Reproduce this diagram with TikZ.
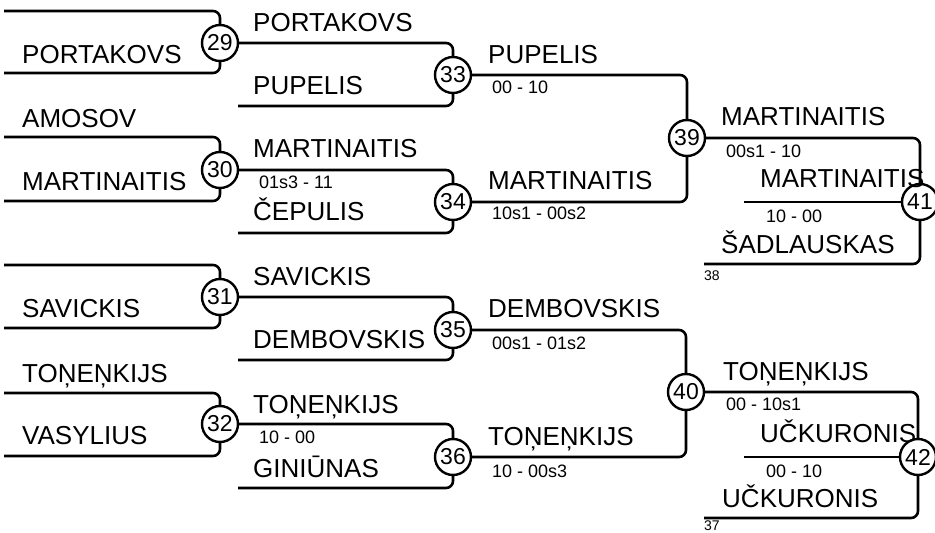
\documentclass[tikz,border=0pt]{standalone}
\usepackage{fontspec}
\setmainfont{Liberation Sans}
\begin{document}
\begin{tikzpicture}[x=1pt,y=-1pt,
  conn/.style={line width=2.6pt, rounded corners=7pt},
  game/.style={circle, draw, line width=2.4pt, fill=white, minimum size=36pt, inner sep=0pt, font=\fontsize{23}{23}\selectfont},
  player/.style={anchor=base west, inner sep=0pt, font=\fontsize{26}{28}\selectfont},
  score/.style={anchor=base west, inner sep=0pt, font=\fontsize{18}{20}\selectfont},
  smalltxt/.style={anchor=base west, inner sep=0pt, font=\fontsize{14}{15}\selectfont}]
\useasboundingbox (0,0) rectangle (935,533);
% games
\node[game] (m29) at (220,43) {29};
\node[game] (m30) at (220,170) {30};
\node[game] (m31) at (220,297) {31};
\node[game] (m32) at (220,424) {32};
\node[game] (m33) at (453,75) {33};
\node[game] (m34) at (453,202) {34};
\node[game] (m35) at (453,330) {35};
\node[game] (m36) at (453,457) {36};
\node[game] (m39) at (687,138) {39};
\node[game] (m40) at (686,392) {40};
% free ends
\coordinate (a29t) at (4,11);  \coordinate (a29b) at (4,73);
\coordinate (a30t) at (4,137); \coordinate (a30b) at (4,201);
\coordinate (a31t) at (4,265); \coordinate (a31b) at (4,328);
\coordinate (a32t) at (4,393); \coordinate (a32b) at (4,456);
\coordinate (a33b) at (238,106);
\coordinate (a34b) at (238,233);
\coordinate (a35b) at (238,360);
\coordinate (a36b) at (238,488);
\coordinate (a41w) at (744,202); \coordinate (a41b) at (704,264);
\coordinate (a42w) at (744,457); \coordinate (a42b) at (704,518);
% connectors
\draw[conn] (a29t) -| (m29.north);
\draw[conn] (a29b) -| (m29.south);
\draw[conn] (a30t) -| (m30.north);
\draw[conn] (a30b) -| (m30.south);
\draw[conn] (a31t) -| (m31.north);
\draw[conn] (a31b) -| (m31.south);
\draw[conn] (a32t) -| (m32.north);
\draw[conn] (a32b) -| (m32.south);
\draw[conn] (m29.east) -| (m33.north);
\draw[conn] (a33b) -| (m33.south);
\draw[conn] (m30.east) -| (m34.north);
\draw[conn] (a34b) -| (m34.south);
\draw[conn] (m31.east) -| (m35.north);
\draw[conn] (a35b) -| (m35.south);
\draw[conn] (m32.east) -| (m36.north);
\draw[conn] (a36b) -| (m36.south);
\draw[conn] (m33.east) -| (m39.north);
\draw[conn] (m34.east) -| (m39.south);
\draw[conn] (m35.east) -| (m40.north);
\draw[conn] (m36.east) -| (m40.south);
\node[game] (m41) at (920,202) {41};
\node[game] (m42) at (918,457) {42};
\draw[conn] (m39.east) -| (m41.north);
\draw[conn] (a41w) -- (m41.west);
\draw[conn] (a41b) -| (m41.south);
\draw[conn] (m40.east) -| (m42.north);
\draw[conn] (a42w) -- (m42.west);
\draw[conn] (a42b) -| (m42.south);
% column 1
\node[player] (n1) at (22,63) {PORTAKOVS};
\node[player] (n2) at (22,127) {AMOSOV};
\node[player] (n3) at (22,190) {MARTINAITIS};
\node[player] (n4) at (22,317) {SAVICKIS};
\node[player] (n5) at (22,382) {TOŅEŅKIJS};
\node[player] (n6) at (22,444) {VASYLIUS};
% column 2
\node[player] (n7) at (253,31) {PORTAKOVS};
\node[player] (n8) at (253,94) {PUPELIS};
\node[player] (n9) at (253,157) {MARTINAITIS};
\node[score] (s1) at (259,188) {01s3 - 11};
\node[player] (n10) at (253,220) {ČEPULIS};
\node[player] (n11) at (253,285) {SAVICKIS};
\node[player] (n12) at (253,348) {DEMBOVSKIS};
\node[player] (n13) at (253,413) {TOŅEŅKIJS};
\node[score] (s2) at (259,443) {10 - 00};
\node[player] (n14) at (253,477) {GINIŪNAS};
% column 3
\node[player] (n15) at (488,63) {PUPELIS};
\node[score] (s3) at (492,93) {00 - 10};
\node[player] (n16) at (488,189) {MARTINAITIS};
\node[score] (s4) at (492,219) {10s1 - 00s2};
\node[player] (n17) at (488,317) {DEMBOVSKIS};
\node[score] (s5) at (492,349) {00s1 - 01s2};
\node[player] (n18) at (488,445) {TOŅEŅKIJS};
\node[score] (s6) at (492,477) {10 - 00s3};
% column 4
\node[player] (n19) at (721,125) {MARTINAITIS};
\node[score] (s7) at (726,157) {00s1 - 10};
\node[player] (n20) at (760,187) {MARTINAITIS};
\node[score] (s8) at (766,222) {10 - 00};
\node[player] (n21) at (721,253) {ŠADLAUSKAS};
\node[smalltxt] (t1) at (704,280) {38};
\node[player] (n22) at (723,380) {TOŅEŅKIJS};
\node[score] (s9) at (726,410) {00 - 10s1};
\node[player] (n23) at (760,442) {UČKURONIS};
\node[score] (s10) at (766,477) {00 - 10};
\node[player] (n24) at (722,507) {UČKURONIS};
\node[smalltxt] (t2) at (704,530) {37};
\end{tikzpicture}
\end{document}
